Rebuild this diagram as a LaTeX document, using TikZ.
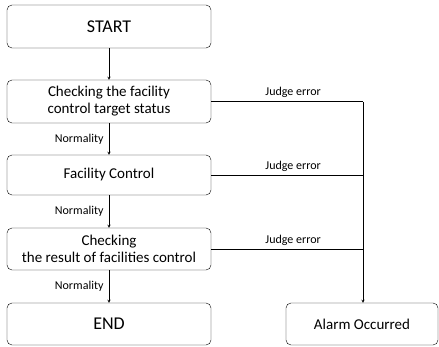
\documentclass[tikz,border=0pt]{standalone}
\usepackage{fontspec}
\setmainfont{Carlito}
\usetikzlibrary{arrows}
\tikzstyle{stepbox}=[draw,rounded corners=5pt,minimum width=204pt,inner sep=0pt,align=center,font=\fontsize{15}{17}\selectfont]
\tikzstyle{alarmbox}=[stepbox,minimum width=152pt]
\tikzstyle{flow} = [draw,->,>=stealth]
\tikzstyle{cond} = [font=\fontsize{12}{14}\selectfont]

\begin{document}
\begin{tikzpicture}[x=1pt,y=-1pt]
				\useasboundingbox (0,0) rectangle (439,347);
				% First we draw the steps
				\foreach \pos/\h/\name/\txt in {{(109,26.5)/43/start/\fontsize{18}{20}\selectfont START},
										{(109,101.5)/43/check/Checking the facility\\control target status},
										{(109,175)/40/ctrl/Facility Control},
										{(109,249)/42/result/Checking\\the result of facilities control},
										{(109,324)/42/end/\fontsize{18}{20}\selectfont END}}
				\node[stepbox,minimum height=\h pt] (\name) at \pos {\txt};
				\node[alarmbox,minimum height=42pt] (alarm) at (362,324) {Alarm Occurred};
				\coordinate (bend) at (363,102);

				% Normal flow
				\path[flow] (start) -- (check);
				\foreach \source/ \dest in {check/ctrl, ctrl/result, result/end}
				\path[flow] (\source) -- node[cond, left, xshift=-2pt] {Normality} (\dest);

				% Error flow
				\foreach \source in {check, ctrl, result}
				\path[draw] (\source.east) -- node[cond, above, xshift=6pt] {Judge error} (\source.east -| bend);
				\path[flow] (bend) -- (alarm.north -| bend);
			\end{tikzpicture}
\end{document}
